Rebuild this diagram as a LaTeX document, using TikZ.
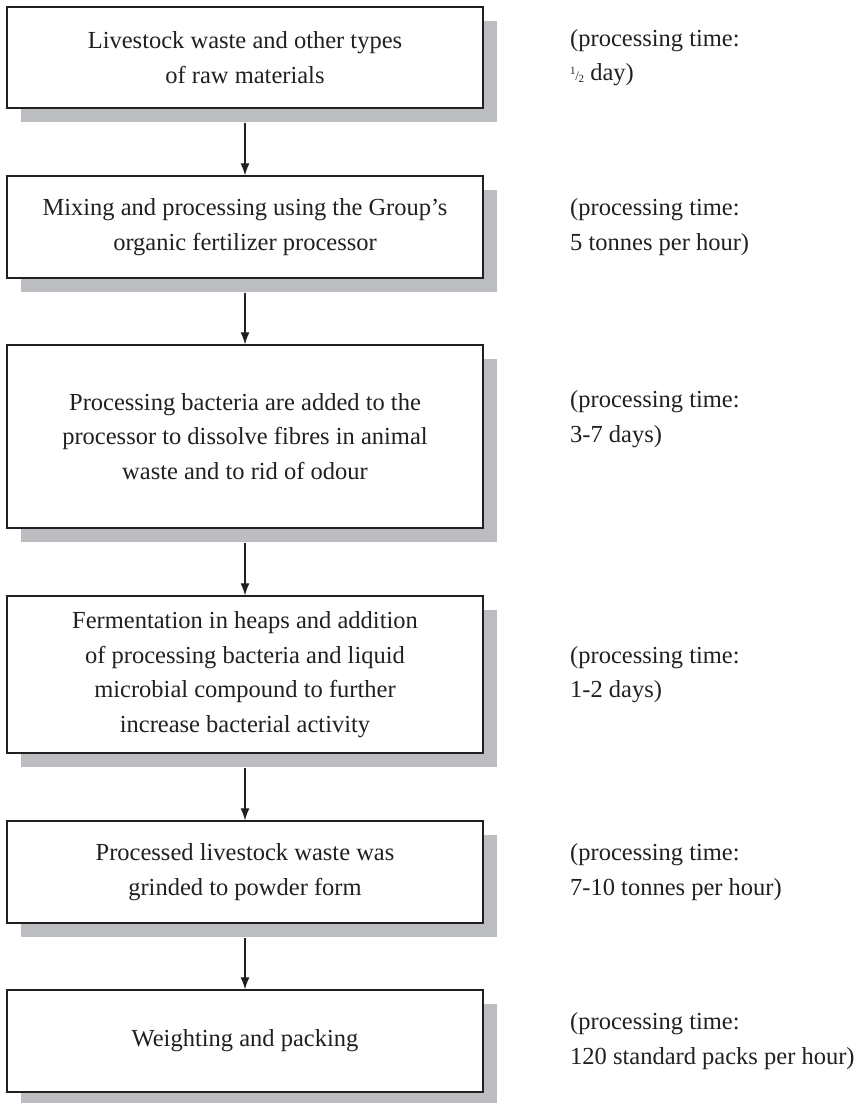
\documentclass[tikz,border=0pt]{standalone}
\usepackage{fontspec}
\setmainfont{Liberation Serif}
\usetikzlibrary{arrows.meta}
\definecolor{shade}{RGB}{188,189,193}
\definecolor{ink}{RGB}{35,31,32}
\newcommand{\halfday}{\raisebox{0.55ex}{\fontsize{11}{11}\selectfont 1}\kern-0.3pt{\fontsize{13}{13}\selectfont/}\kern-0.3pt\raisebox{-0.15ex}{\fontsize{11}{11}\selectfont 2}}
\begin{document}
\begin{tikzpicture}[x=1pt,y=-1pt,
  stepbox/.style={draw=ink, line width=1.3pt, fill=white, minimum width=476pt,
    inner sep=0pt, align=center, font=\fontsize{24.5}{34.5}\selectfont, text=ink,
    preaction={fill=shade, transform canvas={xshift=14pt,yshift=-14pt}}},
  note/.style={anchor=west, align=left, inner sep=0pt,
    font=\fontsize{24.5}{34.5}\selectfont, text=ink},
  flow/.style={draw=ink, line width=1.2pt, -{Latex[length=12pt,width=9pt]}}]
\useasboundingbox (0,0) rectangle (861,1103);

\node[stepbox, minimum height=101pt] (b1) at (245,57.5)
  {Livestock waste and other types\\of raw materials};
\node[stepbox, minimum height=102pt] (b2) at (245,227)
  {Mixing and processing using the Group’s\\organic fertilizer processor};
\node[stepbox, minimum height=183pt] (b3) at (245,436.5)
  {Processing bacteria are added to the\\processor to dissolve fibres in animal\\waste and to rid of odour};
\node[stepbox, minimum height=157pt] (b4) at (245,674.5)
  {Fermentation in heaps and addition\\of processing bacteria and liquid\\microbial compound to further\\increase bacterial activity};
\node[stepbox, minimum height=102pt] (b5) at (245,872)
  {Processed livestock waste was\\grinded to powder form};
\node[stepbox, minimum height=102pt] (b6) at (245,1041)
  {Weighting and packing};

\node[note] (r1) at (570,57.5) {(processing time:\\\halfday\ day)};
\node[note] (r2) at (570,227) {(processing time:\\5 tonnes per hour)};
\node[note] (r3) at (570,419.25) {(processing time:\\3-7 days)};
\node[note] (r4) at (570,674.5) {(processing time:\\1-2 days)};
\node[note] (r5) at (570,872) {(processing time:\\7-10 tonnes per hour)};
\node[note] (r6) at (570,1041) {(processing time:\\120 standard packs per hour)};

\draw[flow] ([yshift=-14pt]b1.south) -- (b2.north);
\draw[flow] ([yshift=-14pt]b2.south) -- (b3.north);
\draw[flow] ([yshift=-14pt]b3.south) -- (b4.north);
\draw[flow] ([yshift=-14pt]b4.south) -- (b5.north);
\draw[flow] ([yshift=-14pt]b5.south) -- (b6.north);
\end{tikzpicture}
\end{document}
